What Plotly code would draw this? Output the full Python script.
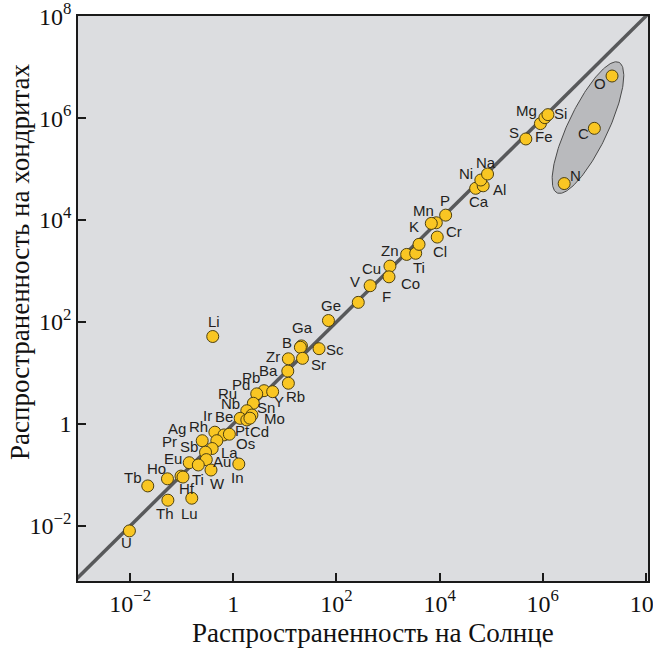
import numpy as np
import plotly.graph_objects as go

# ---- data (atoms relative to Si = 1e6) ----
elements = ["Li", "Ga", "B", "Sc", "Zr", "Sr", "Ba", "Rb", "Ge", "F", "V", "Cu", "Co",
            "Zn", "Ti", "K", "Cl", "Mn", "P", "Cr", "Ca", "Al", "Ni", "Na", "S", "Fe",
            "Mg", "Si", "O", "C", "N",
            "Pb", "Pd", "Y", "Ru", "Nb", "Sn", "Ir", "Be", "Mo", "Rh", "Pt", "Cd", "Ag",
            "Os", "Sb", "Pr", "La", "Eu", "Au", "W", "In", "Ti", "Hf", "Ho", "Tb", "Th",
            "Lu", "U"]
solar = [0.40, 21, 20, 46, 11.7, 22, 11.4, 11.7, 70, 265, 450, 1090, 1045,
         2300, 3440, 3990, 9000, 8630, 13100, 6900, 50000, 70000, 63000, 85000, 4.7e5, 9.0e5,
         1.1e6, 1.26e6, 2.2e7, 1.0e7, 2.6e6,
         3.95, 2.85, 5.8, 2.45, 1.83, 2.3, 1.36, 1.83, 2.1, 0.44, 0.66, 0.84, 0.25,
         0.48, 0.39, 0.29, 0.30, 0.14, 0.21, 0.37, 1.28, 0.097, 0.106, 0.053, 0.022, 0.054,
         0.157, 0.0097]
chondrite = [52, 34, 32, 30, 19, 19.4, 10.9, 6.3, 107, 243, 515, 1250, 770,
             2120, 2230, 3340, 4640, 8850, 12500, 8600, 42000, 47000, 61000, 80000, 3.9e5, 7.8e5,
             1.02e6, 1.17e6, 6.7e6, 6.3e5, 5.2e4,
             4.5, 3.9, 4.3, 2.55, 1.82, 1.5, 1.29, 1.2, 1.3, 0.69, 0.61, 0.63, 0.47,
             0.47, 0.33, 0.28, 0.20, 0.174, 0.157, 0.125, 0.164, 0.095, 0.091, 0.084, 0.061, 0.032,
             0.035, 0.008]

# label offsets (pixels) relative to each point
label_dx = [1, 1, -13, 16, -15, 16, -19, 7, 3, 28, -15, -18, 21,
            -17, 3, -5, 3, -13, -1, 23, 3, 16, -15, -2, -12, 4,
            -18, 13, -12, -11, 11,
            -13, -16, 6, -26, -16, 14, -33, -23, 25, -16, 19, 30, -25,
            29, -23, -36, 23, -16, 24, 7, -1, 17, 4, -11, -15, -3,
            -2, -3]
label_dy = [15, 18, 5, -1, 2, -6, 1, -13, 15, 6, 4, -2, -7,
            4, -14, 18, -14, 12, 15, -8, -13, -4, 7, 12, 6, -13,
            7, 1, -7, -5, 8,
            13, 9, -10, 10, 7, 8, 3, 3, 0, 6, 4, 3, 12,
            -3, 2, 11, 7, 4, 3, -13, -13, -3, -11, 10, 8, -13,
            -15, -12]

tick_vals = [1e-2, 1, 1e2, 1e4, 1e6, 1e8]
tick_text = ["10<sup>\u22122</sup>", "1", "10<sup>2</sup>", "10<sup>4</sup>",
             "10<sup>6</sup>", "10<sup>8</sup>"]

# ellipse around O, C, N (log-space parameters)
ell_center = (6.876, 5.814)
ell_major = (0.60, 1.28)
ell_minor = (-0.35, 0.167)

SERIF = "Liberation Serif"
SANS = "Liberation Sans"

fig = go.Figure()

t = np.linspace(0, 2 * np.pi, 200)
ex = ell_center[0] + np.cos(t) * ell_major[0] + np.sin(t) * ell_minor[0]
ey = ell_center[1] + np.cos(t) * ell_major[1] + np.sin(t) * ell_minor[1]
fig.add_trace(go.Scatter(x=10 ** ex, y=10 ** ey, mode="lines", fill="toself",
                         fillcolor="#b9babd", line=dict(color="#4a4a4a", width=1),
                         hoverinfo="skip", showlegend=False))

fig.add_trace(go.Scatter(x=[1e-4, 1e9], y=[1e-4, 1e9], mode="lines",
                         line=dict(color="#58595b", width=3.5),
                         hoverinfo="skip", showlegend=False))

fig.add_trace(go.Scatter(x=solar, y=chondrite, mode="markers", text=elements,
                         marker=dict(size=12, color="#f9c623",
                                     line=dict(color="#4d4010", width=1)),
                         showlegend=False, cliponaxis=False))

for el, xs, ys, dx, dy in zip(elements, solar, chondrite, label_dx, label_dy):
    fig.add_annotation(x=np.log10(xs), y=np.log10(ys), text=el, showarrow=False,
                       xshift=dx, yshift=dy,
                       font=dict(family=SANS, size=15, color="#231f20"))

fig.add_annotation(text="Распространенность на Солнце", xref="paper", yref="paper",
                   x=0.5175, y=-0.092, showarrow=False, xanchor="center", yanchor="middle",
                   font=dict(family=SERIF, size=27, color="#111"))
fig.add_annotation(text="Распространенность на хондритах", xref="paper", yref="paper",
                   x=-0.1018, y=0.5646, showarrow=False, xanchor="center", yanchor="middle",
                   textangle=-90,
                   font=dict(family=SERIF, size=27, color="#111"))

axis_common = dict(type="log", showgrid=False, zeroline=False, showline=True,
                   linecolor="#1a1a1a", linewidth=1.5, mirror=True,
                   ticks="inside", ticklen=8, tickwidth=1.5, tickcolor="#1a1a1a",
                   tickmode="array", tickvals=tick_vals, ticktext=tick_text,
                   ticklabeloverflow="allow", automargin=False,
                   tickfont=dict(family=SERIF, size=24, color="#111"))

fig.update_layout(
    width=653, height=648,
    margin=dict(l=78, r=5, t=16, b=67),
    paper_bgcolor="white", plot_bgcolor="#dcdde0",
    xaxis=dict(range=[-3.01, 8.04], **axis_common),
    yaxis=dict(range=[-3.08, 8.003], **axis_common),
)

fig.write_html("out.html")
